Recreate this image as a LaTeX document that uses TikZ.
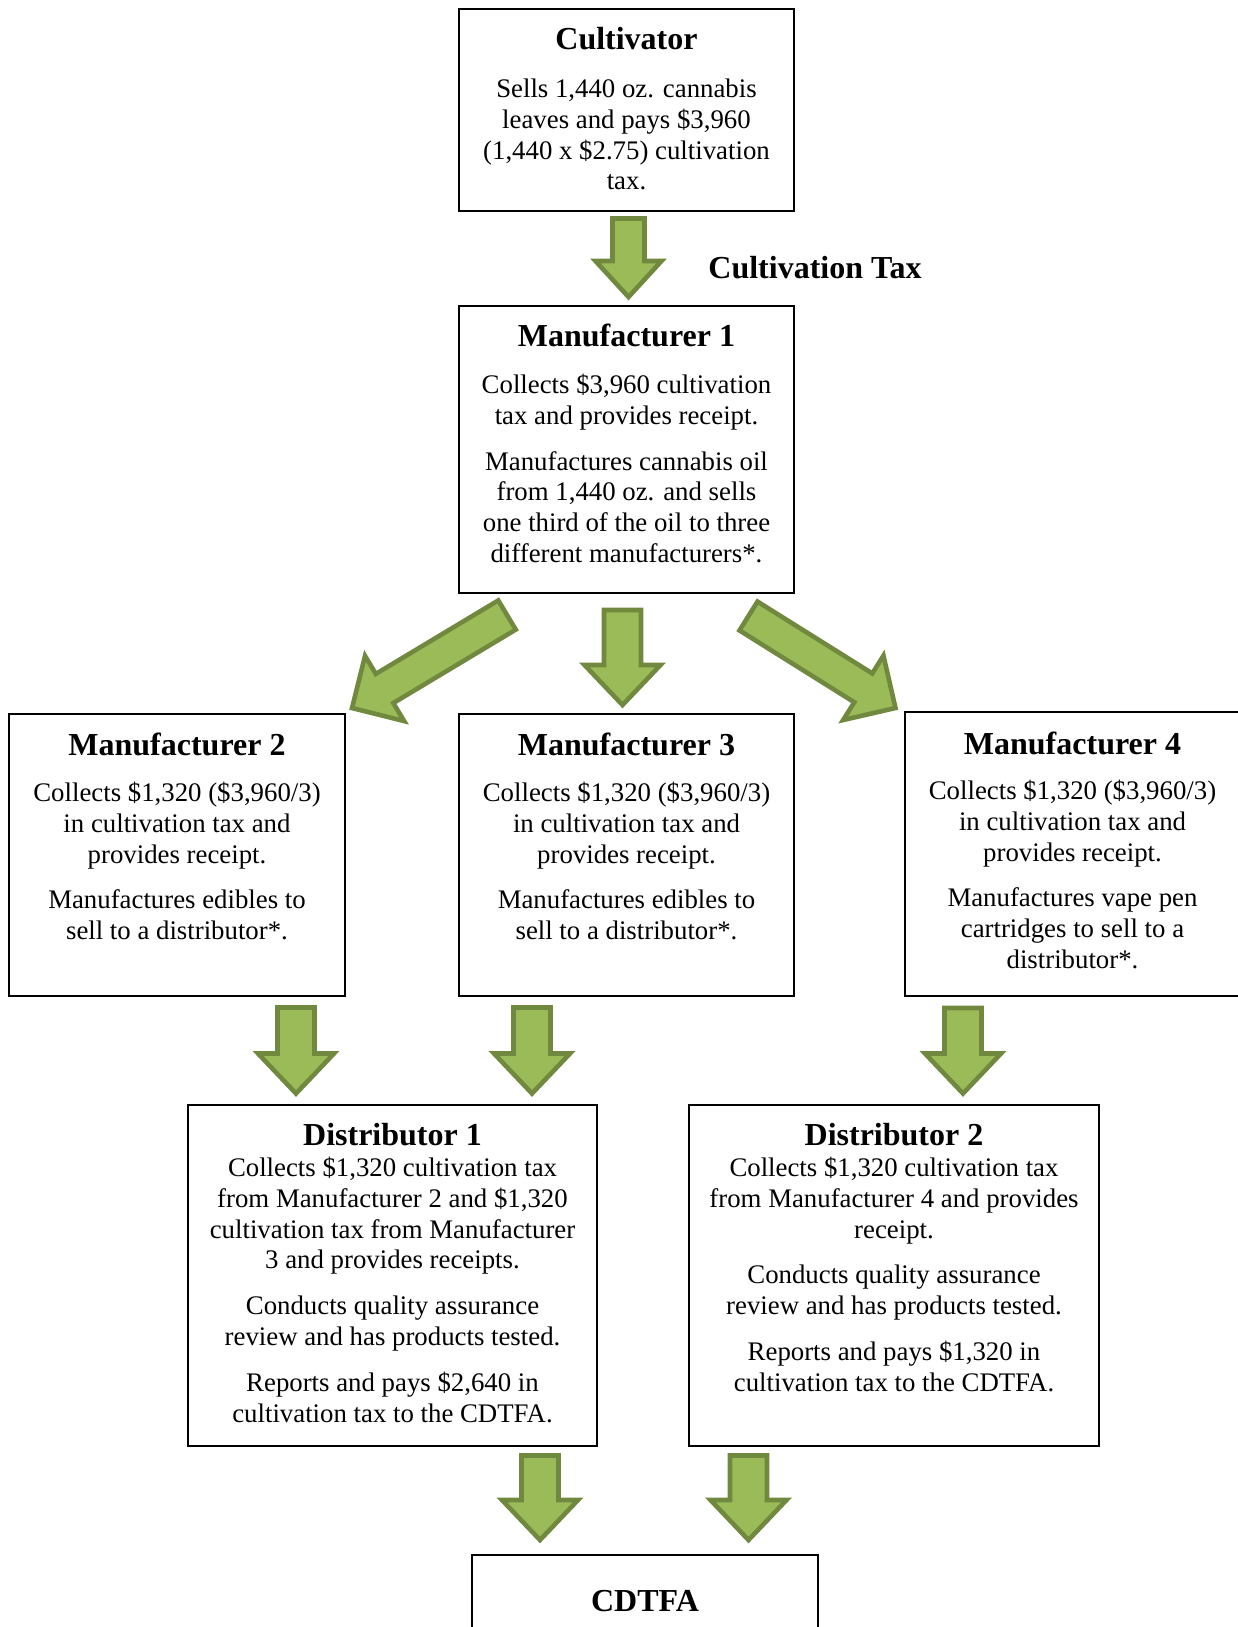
\documentclass[tikz,border=0pt]{standalone}
\usepackage{fontspec}
\setmainfont{Liberation Serif}
\usetikzlibrary{calc,fit}
\definecolor{arrfill}{HTML}{9BBB59}
\definecolor{arrline}{HTML}{71893F}
\newcommand\firststrut{\rule{0pt}{11pt}}
% tail, tip, shaft half-width, head half-width, head length (pt)
\newcommand\blockarrow[5]{%
  \coordinate (hb) at ($(#2)!#5!(#1)$);
  \filldraw[blockarr] ($(#1)!#3!90:(#2)$) -- ($(hb)!#3!90:(#2)$) -- ($(hb)!#4!90:(#2)$) -- (#2)
    -- ($(hb)!#4!-90:(#2)$) -- ($(hb)!#3!-90:(#2)$) -- ($(#1)!#3!-90:(#2)$) -- cycle;}
\begin{document}
\begin{tikzpicture}[x=0.5pt,y=-0.5pt,
  box/.style={draw=black, line width=1.1pt, inner sep=0pt},
  ttl/.style={font=\fontsize{16}{19}\selectfont\bfseries, inner sep=0pt, anchor=base},
  body/.style={font=\fontsize{13.4}{15.4}\selectfont, align=center, inner sep=0pt, anchor=north},
  blockarr/.style={fill=arrfill, draw=arrline, line width=2.3pt, line join=miter, miter limit=10}]
\useasboundingbox (0,0) rectangle (1237,1627);

% boxes
\node[box, fit={(459,9) (794,211)}] (cult) {};
\node[box, fit={(459,306) (794,593)}] (m1) {};
\node[box, fit={(9,714) (345,996)}] (m2) {};
\node[box, fit={(459,714) (794,996)}] (m3) {};
\node[box, fit={(905,712) (1240,996)}] (m4) {};
\node[box, fit={(188,1105) (597,1446)}] (d1) {};
\node[box, fit={(689,1105) (1099,1446)}] (d2) {};
\node[box, fit={(472,1555) (818,1645)}] (cdtfa) {};

% titles
\node[ttl] (cultT) at (626.5,50) {Cultivator};
\node[ttl] (m1T) at (626.5,346.5) {Manufacturer 1};
\node[ttl] (m2T) at (177,755) {Manufacturer 2};
\node[ttl] (m3T) at (626.5,755) {Manufacturer 3};
\node[ttl] (m4T) at (1072.5,754) {Manufacturer 4};
\node[ttl] (d1T) at (392.5,1145.5) {Distributor 1};
\node[ttl] (d2T) at (894,1145.5) {Distributor 2};
\node[ttl] (cdT) at (645,1611) {CDTFA};
\node[ttl, anchor=base west] (ctax) at (708,278) {Cultivation Tax};

% bodies
\node[body] (cultB) at (626.5,75) {\firststrut Sells 1,440 oz. cannabis\\ leaves and pays \$3,960\\ (1,440 x \$2.75) cultivation\\ tax.};
\node[body] (m1B) at (626.5,371) {\firststrut Collects \$3,960 cultivation\\ tax and provides receipt.\\[7.5pt] Manufactures cannabis oil\\ from 1,440 oz. and sells\\ one third of the oil to three\\ different manufacturers*.};
\node[body] (m2B) at (177,779) {\firststrut Collects \$1,320 (\$3,960/3)\\ in cultivation tax and\\ provides receipt.\\[7.5pt] Manufactures edibles to\\ sell to a distributor*.};
\node[body] (m3B) at (626.5,779) {\firststrut Collects \$1,320 (\$3,960/3)\\ in cultivation tax and\\ provides receipt.\\[7.5pt] Manufactures edibles to\\ sell to a distributor*.};
\node[body] (m4B) at (1072.5,777) {\firststrut Collects \$1,320 (\$3,960/3)\\ in cultivation tax and\\ provides receipt.\\[7.5pt] Manufactures vape pen\\ cartridges to sell to a\\ distributor*.};
\node[body] (d1B) at (392.5,1154) {\firststrut Collects \$1,320 cultivation tax\\ from Manufacturer 2 and \$1,320\\ cultivation tax from Manufacturer\\ 3 and provides receipts.\\[7.5pt] Conducts quality assurance\\ review and has products tested.\\[7.5pt] Reports and pays \$2,640 in\\ cultivation tax to the CDTFA.};
\node[body] (d2B) at (894,1154) {\firststrut Collects \$1,320 cultivation tax\\ from Manufacturer 4 and provides\\ receipt.\\[7.5pt] Conducts quality assurance\\ review and has products tested.\\[7.5pt] Reports and pays \$1,320 in\\ cultivation tax to the CDTFA.};

% arrow anchor coordinates
\coordinate (a1s) at (628.5,218.5); \coordinate (a1e) at (628.5,297);
\coordinate (a2s) at (507,615);     \coordinate (a2e) at (352,708);
\coordinate (a3s) at (622.5,610);   \coordinate (a3e) at (622.5,705);
\coordinate (a4s) at (748.5,616);   \coordinate (a4e) at (895.5,708);
\coordinate (a5s) at (296,1007.5);  \coordinate (a5e) at (296,1093.5);
\coordinate (a6s) at (532,1007.5);  \coordinate (a6e) at (532,1093.5);
\coordinate (a7s) at (963,1008);    \coordinate (a7e) at (963,1093.5);
\coordinate (a8s) at (540,1455.5);  \coordinate (a8e) at (540,1540);
\coordinate (a9s) at (748.5,1455.5);\coordinate (a9e) at (748.5,1540);

\blockarrow{a1s}{a1e}{8pt}{16.5pt}{18pt}
\blockarrow{a2s}{a2e}{8.5pt}{19pt}{19pt}
\blockarrow{a3s}{a3e}{9.25pt}{19pt}{20pt}
\blockarrow{a4s}{a4e}{8.5pt}{19pt}{19pt}
\blockarrow{a5s}{a5e}{9.25pt}{19pt}{20pt}
\blockarrow{a6s}{a6e}{9.25pt}{19pt}{20pt}
\blockarrow{a7s}{a7e}{9.25pt}{19pt}{20pt}
\blockarrow{a8s}{a8e}{9.25pt}{19pt}{20pt}
\blockarrow{a9s}{a9e}{9.25pt}{19pt}{20pt}
\end{tikzpicture}
\end{document}
